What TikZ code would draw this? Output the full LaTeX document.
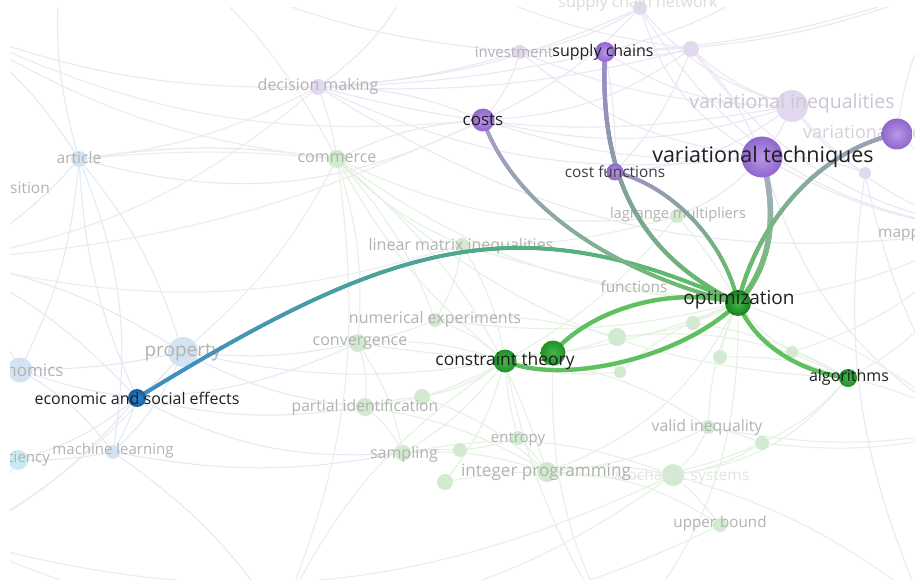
\documentclass[tikz,border=0pt]{standalone}
\usepackage{fontspec}
\setmainfont{Open Sans}
\usetikzlibrary{decorations.markings}
\pgfdeclarelayer{bg}\pgfdeclarelayer{fe}\pgfdeclarelayer{fn}\pgfdeclarelayer{se}
\pgfsetlayers{bg,fe,fn,se,main}
\definecolor{fgray}{HTML}{B2B2B2}
\definecolor{vgray}{HTML}{C9C5D2}
\definecolor{lav}{HTML}{EBE7F4}
\definecolor{grn}{HTML}{E5F2E3}
\definecolor{blu}{HTML}{E2EBF5}
\definecolor{pnk}{HTML}{F5E8EA}
\definecolor{gry}{HTML}{EDEDED}
\definecolor{fpur}{HTML}{E2D9F0}
\definecolor{fgrn}{HTML}{D2EACF}
\definecolor{fblu}{HTML}{D4E3F2}
\definecolor{fcya}{HTML}{C6EBF0}
\definecolor{sgrn}{HTML}{60C060}
\definecolor{ebl}{HTML}{3D8BC7}
\definecolor{plA}{HTML}{A89BCC}
\definecolor{plB}{HTML}{A088D0}
\definecolor{plC}{HTML}{A58FD0}
\definecolor{plD}{HTML}{B3AAD2}
\definecolor{plE}{HTML}{A39CC5}
\definecolor{gIn}{HTML}{46B64C}
\definecolor{gOut}{HTML}{1E9026}
\definecolor{gOutD}{HTML}{167F1E}
\definecolor{pIn}{HTML}{B898E8}
\definecolor{pOut}{HTML}{9066CC}
\definecolor{bIn}{HTML}{3088D0}
\definecolor{bOut}{HTML}{145D9B}
\tikzset{
  fdot/.style={circle, inner sep=0pt, draw=none},
  flab/.style={text=fgray, inner sep=0pt, font=\fontsize{#1}{#1}\selectfont},
  slab/.style={text=black!88, inner sep=0pt, font=\fontsize{#1}{#1}\selectfont},
  fedge/.style={line width=1.1pt},
  sedge/.style={line width=4.4pt, draw=sgrn},
  gedge/.style n args={3}{postaction={decorate, decoration={markings,
     mark=between positions 0 and 1 step 0.8pt with {
       \pgfmathtruncatemacro\gf{100*(1-\pgfkeysvalueof{/pgf/decoration/mark info/distance from start}/\pgfdecoratedpathlength)}
       \fill[#1!\gf!#2] (0,0) circle (#3);
     }}}},
}
\begin{document}
\begin{tikzpicture}[x=1pt,y=-1pt]
\useasboundingbox (0,0) rectangle (915,580);
\begin{pgfonlayer}{bg}
\fill[white] (0,0) rectangle (915,580);
\end{pgfonlayer}

% ---------- strong nodes ----------
\node[fdot, minimum size=26pt, shading=radial, inner color=gIn, outer color=gOutD] (opt) at (738,303) {};
\node[fdot, minimum size=23pt, shading=radial, inner color=gIn, outer color=gOut] (ct1) at (505,361) {};
\node[fdot, minimum size=25pt, shading=radial, inner color=gIn, outer color=gOut] (ct2) at (553,353) {};
\node[fdot, minimum size=18pt, shading=radial, inner color=gIn, outer color=gOut] (alg) at (848,378) {};
\node[fdot, minimum size=18pt, shading=radial, inner color=bIn, outer color=bOut] (econ) at (137,398) {};
\node[fdot, minimum size=23pt, shading=radial, inner color=pIn, outer color=pOut] (costs) at (483,120) {};
\node[fdot, minimum size=20pt, shading=radial, inner color=pIn, outer color=pOut] (sc) at (605,52) {};
\node[fdot, minimum size=17pt, shading=radial, inner color=pIn, outer color=pOut] (cf) at (615,172) {};
\node[fdot, minimum size=41pt, shading=radial, inner color=pIn, outer color=pOut] (vt) at (762,157) {};
\node[fdot, minimum size=31pt, shading=radial, inner color=pIn, outer color=pOut] (vi2) at (897,134) {};

% ---------- faint nodes and labels ----------
\begin{pgfonlayer}{fn}
\begin{scope}
\clip (10,0) rectangle (915,580);
\node[fdot, minimum size=16pt, fill=fpur] (dm) at (318,87) {};
\node[fdot, minimum size=16pt, fill=fblu] (art) at (79,159) {};
\node[fdot, minimum size=18pt, fill=fgrn] (comm) at (337,159) {};
\node[fdot, minimum size=14pt, fill=fgrn] (lmi) at (462,245) {};
\node[fdot, minimum size=14pt, fill=fgrn] (lag) at (677,216) {};
\node[fdot, minimum size=14pt, fill=fgrn] (numexp) at (435,320) {};
\node[fdot, minimum size=18pt, fill=fgrn] (conv) at (358,343) {};
\node[fdot, minimum size=30pt, fill=fblu] (prop) at (183,352) {};
\node[fdot, minimum size=25pt, fill=fblu] (nomics) at (20,370) {};
\node[fdot, minimum size=18pt, fill=fgrn] (pid) at (365,407) {};
\node[fdot, minimum size=16pt, fill=fgrn] (g8) at (422,397) {};
\node[fdot, minimum size=14pt, fill=fblu] (ml) at (113,452) {};
\node[fdot, minimum size=20pt, fill=fcya] (ciency) at (18,460) {};
\node[fdot, minimum size=16pt, fill=fgrn] (samp) at (403,453) {};
\node[fdot, minimum size=14pt, fill=fgrn] (g6) at (460,450) {};
\node[fdot, minimum size=16pt, fill=fgrn] (g7) at (445,482) {};
\node[fdot, minimum size=14pt, fill=fgrn] (entr) at (518,438) {};
\node[fdot, minimum size=20pt, fill=fgrn] (intprog) at (547,472) {};
\node[fdot, minimum size=18pt, fill=fgrn] (g1) at (617,337) {};
\node[fdot, minimum size=14pt, fill=fgrn] (g2) at (693,323) {};
\node[fdot, minimum size=14pt, fill=fgrn] (g3) at (720,357) {};
\node[fdot, minimum size=12pt, fill=fgrn] (g4) at (620,372) {};
\node[fdot, minimum size=12pt, fill=fgrn] (g5) at (792,352) {};
\node[fdot, minimum size=14pt, fill=fgrn] (valid) at (708,427) {};
\node[fdot, minimum size=14pt, fill=fgrn] (g9) at (762,443) {};
\node[fdot, minimum size=22pt, fill=fgrn] (stoch) at (673,475) {};
\node[fdot, minimum size=14pt, fill=fgrn] (ub) at (720,525) {};
\node[fdot, minimum size=32pt, fill=fpur] (vi) at (792,106) {};
\node[fdot, minimum size=16pt, fill=fpur] (p1) at (691,49) {};
\node[fdot, minimum size=12pt, fill=fpur] (p2) at (865,173) {};
\node[fdot, minimum size=14pt, fill=fpur] (invest) at (520,52) {};
\node[fdot, minimum size=14pt, fill=fpur] (scn) at (640,8) {};

\node[flab=16, text=fgray!45] (scn-l) at (638,3) {supply chain network};
\node[flab=15] (invest-l) at (514,52) {investment};
\node[flab=16] (dm-l) at (318,86) {decision making};
\node[flab=15.6] (art-l) at (79,158) {article};
\node[flab=16] (comm-l) at (337,158) {commerce};
\node[flab=15.5, anchor=east] (sit-l) at (50,188) {sition};
\node[flab=19.5, text=vgray] (vi-l) at (792,103) {variational inequalities};
\node[flab=18, text=vgray!80, anchor=west] (vi2-l) at (803,134) {variational inequality};
\node[flab=15.5, anchor=west] (map-l) at (878,234) {mapping};
\node[flab=16] (lmi-l) at (461,246) {linear matrix inequalities};
\node[flab=14.7] (lag-l) at (678,215) {lagrange multipliers};
\node[flab=15.4] (func-l) at (634,287) {functions};
\node[flab=16] (numexp-l) at (435,319) {numerical experiments};
\node[flab=16] (conv-l) at (360,343) {convergence};
\node[flab=19] (prop-l) at (183,353) {property};
\node[flab=17] (nomics-l) at (21,370) {economics};
\node[flab=15.7] (pid-l) at (365,407) {partial identification};
\node[flab=15] (ml-l) at (113,451) {machine learning};
\node[flab=15] (ciency-l) at (17,459) {efficiency};
\node[flab=16] (samp-l) at (404,454) {sampling};
\node[flab=15] (entr-l) at (518,439) {entropy};
\node[flab=15.5, text=fgray!35] (stoch-l) at (682,476) {stochastic systems};
\node[flab=17.1] (intprog-l) at (546,472) {integer programming};
\node[flab=15.8] (valid-l) at (707,427) {valid inequality};
\node[flab=15.2] (ub-l) at (720,524) {upper bound};
\end{scope}
\end{pgfonlayer}

% ---------- faint mesh of links ----------
\coordinate (oA) at (-40,30);
\coordinate (oB) at (180,-40);
\coordinate (oC) at (420,-40);
\coordinate (oD) at (960,-20);
\coordinate (oE) at (980,230);
\coordinate (oF) at (970,430);
\coordinate (oG) at (280,620);
\coordinate (oH) at (-50,260);
\coordinate (oI) at (-40,540);
\coordinate (oJ) at (620,640);
\coordinate (oK) at (920,600);
\coordinate (oL) at (60,-30);
\coordinate (oM) at (800,-40);
\begin{pgfonlayer}{fe}
\begin{scope}
\clip (10,8) rectangle (915,580);
\foreach \p/\q/\b/\c in {
 dm/vi/-12/lav, dm/p1/-8/lav, dm/sc/-5/lav, dm/costs/10/lav, dm/oA/10/lav, dm/oC/-15/lav,
 dm/invest/-6/lav, dm/vt/-15/lav, dm/oE/-20/lav, dm/comm/5/lav, dm/art/10/pnk, dm/oH/15/pnk,
 invest/vi/-10/lav, invest/oD/-10/lav, invest/costs/10/lav, invest/oB/10/lav, invest/vt/-15/lav,
 sc/vi/-15/lav, sc/p1/-10/lav, sc/oD/-10/lav, sc/oM/-10/lav, sc/cf/5/lav,
 p1/vi/-10/lav, p1/oE/-20/lav, p1/vt/10/lav, p1/costs/15/lav, p1/oC/10/lav,
 scn/vi/-15/lav, scn/dm/10/lav, scn/vt/-20/lav, scn/oE/-25/lav, scn/invest/10/lav, scn/costs/10/lav,
 vi/vt/5/lav, vi/oE/-15/lav, vi/p2/-10/lav, vt/p2/10/lav, vt/oE/-10/lav, vt/oF/-20/lav, vt/lag/10/lav,
 vi2/oE/10/lav, vi2/oD/15/lav, p2/oF/-10/lav, p2/oK/-15/lav, vt/costs/10/lav, vi/costs/15/lav,
 cf/vi/-15/lav, cf/p1/-10/lav, costs/oA/15/pnk, costs/comm/-10/lav, costs/art/20/lav,
 comm/lmi/-10/grn, comm/opt/-15/grn, comm/ct1/-10/grn, comm/numexp/10/grn, comm/conv/10/grn,
 comm/oG/15/grn, comm/lag/-15/grn, comm/oB/-10/grn, comm/intprog/15/grn, comm/alg/-20/grn,
 comm/art/-5/gry, comm/prop/10/grn,
 lmi/opt/-5/grn, lmi/ct1/10/grn, lmi/numexp/10/grn, lmi/lag/-8/grn,
 numexp/ct1/10/grn, numexp/opt/-10/grn, numexp/conv/5/grn, numexp/g1/10/grn,
 conv/ct1/10/grn, conv/pid/10/grn, conv/samp/10/grn, conv/opt/-15/grn,
 pid/ct1/-10/grn, pid/intprog/10/grn, pid/g8/5/grn, pid/samp/10/grn,
 g8/ct1/-10/grn, g8/intprog/10/grn, samp/ct1/-10/grn, samp/g6/5/grn, samp/intprog/10/grn, samp/stoch/15/grn,
 entr/ct1/5/grn, entr/intprog/5/grn, entr/g6/5/grn, g7/intprog/5/grn, g7/ct1/-10/grn,
 intprog/stoch/10/grn, intprog/opt/-20/grn, intprog/valid/-10/grn, intprog/g9/-15/grn, intprog/ub/15/grn,
 stoch/ub/5/grn, stoch/valid/-10/grn, stoch/g9/-10/grn, stoch/alg/-20/grn, stoch/oK/10/grn,
 valid/g9/5/grn, valid/opt/10/grn, valid/ct1/-15/grn, valid/oF/-10/grn, g9/alg/-10/grn, g9/oF/-10/grn,
 g1/opt/-10/grn, g1/ct1/5/grn, g2/opt/5/grn, g3/opt/5/grn, g4/opt/10/grn, g5/opt/10/grn, g5/alg/5/grn,
 g1/alg/15/grn, g2/alg/10/grn, g3/alg/10/grn, g5/oE/-15/grn, g4/ct1/10/grn,
 lag/opt/5/grn, lag/ct1/10/grn, opt/oE/-10/grn, opt/oF/10/grn, alg/oE/-20/grn, alg/oF/10/grn,
 ct1/oG/-15/grn, ct2/oJ/-15/grn, ct1/oJ/-10/grn, opt/oJ/20/grn, oI/stoch/-20/grn, oI/ub/-25/grn, oG/stoch/-15/grn,
 art/prop/10/blu, art/econ/-10/blu, art/oH/10/blu, art/nomics/10/blu, art/oA/-10/blu, art/ml/15/blu,
 art/oL/10/blu, art/comm/8/blu, prop/econ/5/blu, prop/nomics/5/blu, prop/ml/10/blu, prop/oH/-10/blu,
 prop/conv/-8/blu, prop/ct1/-10/blu, prop/pid/-10/blu, econ/nomics/5/blu, econ/ml/5/blu, econ/ciency/10/blu,
 econ/oI/10/blu, econ/oH/-10/blu, econ/conv/-10/blu, econ/pid/-10/blu, econ/samp/-15/blu,
 nomics/ml/10/blu, nomics/oH/-5/blu, ml/ciency/5/blu, ml/oG/10/blu, ciency/oI/5/blu, ml/samp/-10/blu,
 oH/costs/-10/pnk, oL/oC/-10/gry, oA/comm/-12/pnk, oH/lmi/-15/gry, oI/prop/-10/gry}
 {\draw[fedge, \c] (\p) to[bend left=\b] (\q);}
\end{scope}
\end{pgfonlayer}

% ---------- strong links ----------
\begin{pgfonlayer}{se}
\path[gedge={ebl}{sgrn}{2pt}] (econ.center) .. controls (386,245) and (514,201) .. (opt.center);
\path[gedge={plA}{sgrn}{2pt}] (costs.center) .. controls (515,210) and (620,275) .. (opt.center);
\path[gedge={plB}{sgrn}{2.2pt}] (sc.center) .. controls (598,190) and (650,260) .. (opt.center);
\path[gedge={plC}{sgrn}{2pt}] (cf.center) .. controls (670,185) and (725,240) .. (opt.center);
\path[gedge={plD}{sgrn}{2.8pt}] (vt.center) .. controls (778,215) and (772,265) .. (opt.center);
\path[gedge={plE}{sgrn}{2.2pt}] (vi2.center) .. controls (820,150) and (758,220) .. (opt.center);
\draw[sedge] (ct2.center) .. controls (590,310) and (670,285) .. (opt.center);
\draw[sedge] (ct1.center) .. controls (560,385) and (680,360) .. (opt.center);
\draw[sedge] (opt.center) .. controls (755,345) and (800,372) .. (alg.center);
\end{pgfonlayer}

% ---------- strong labels ----------
\node[slab=16] (sc-l) at (603,52) {supply chains};
\node[slab=17] (costs-l) at (483,120) {costs};
\node[slab=15.4, text=black!75] (cf-l) at (615,172) {cost functions};
\node[slab=21.5] (vt-l) at (763,157) {variational techniques};
\node[slab=19] (opt-l) at (739,300) {optimization};
\node[slab=17.4] (ct-l) at (505,361) {constraint theory};
\node[slab=16] (alg-l) at (849,377) {algorithms};
\node[slab=16] (econ-l) at (137,398) {economic and social effects};
\end{tikzpicture}
\end{document}
